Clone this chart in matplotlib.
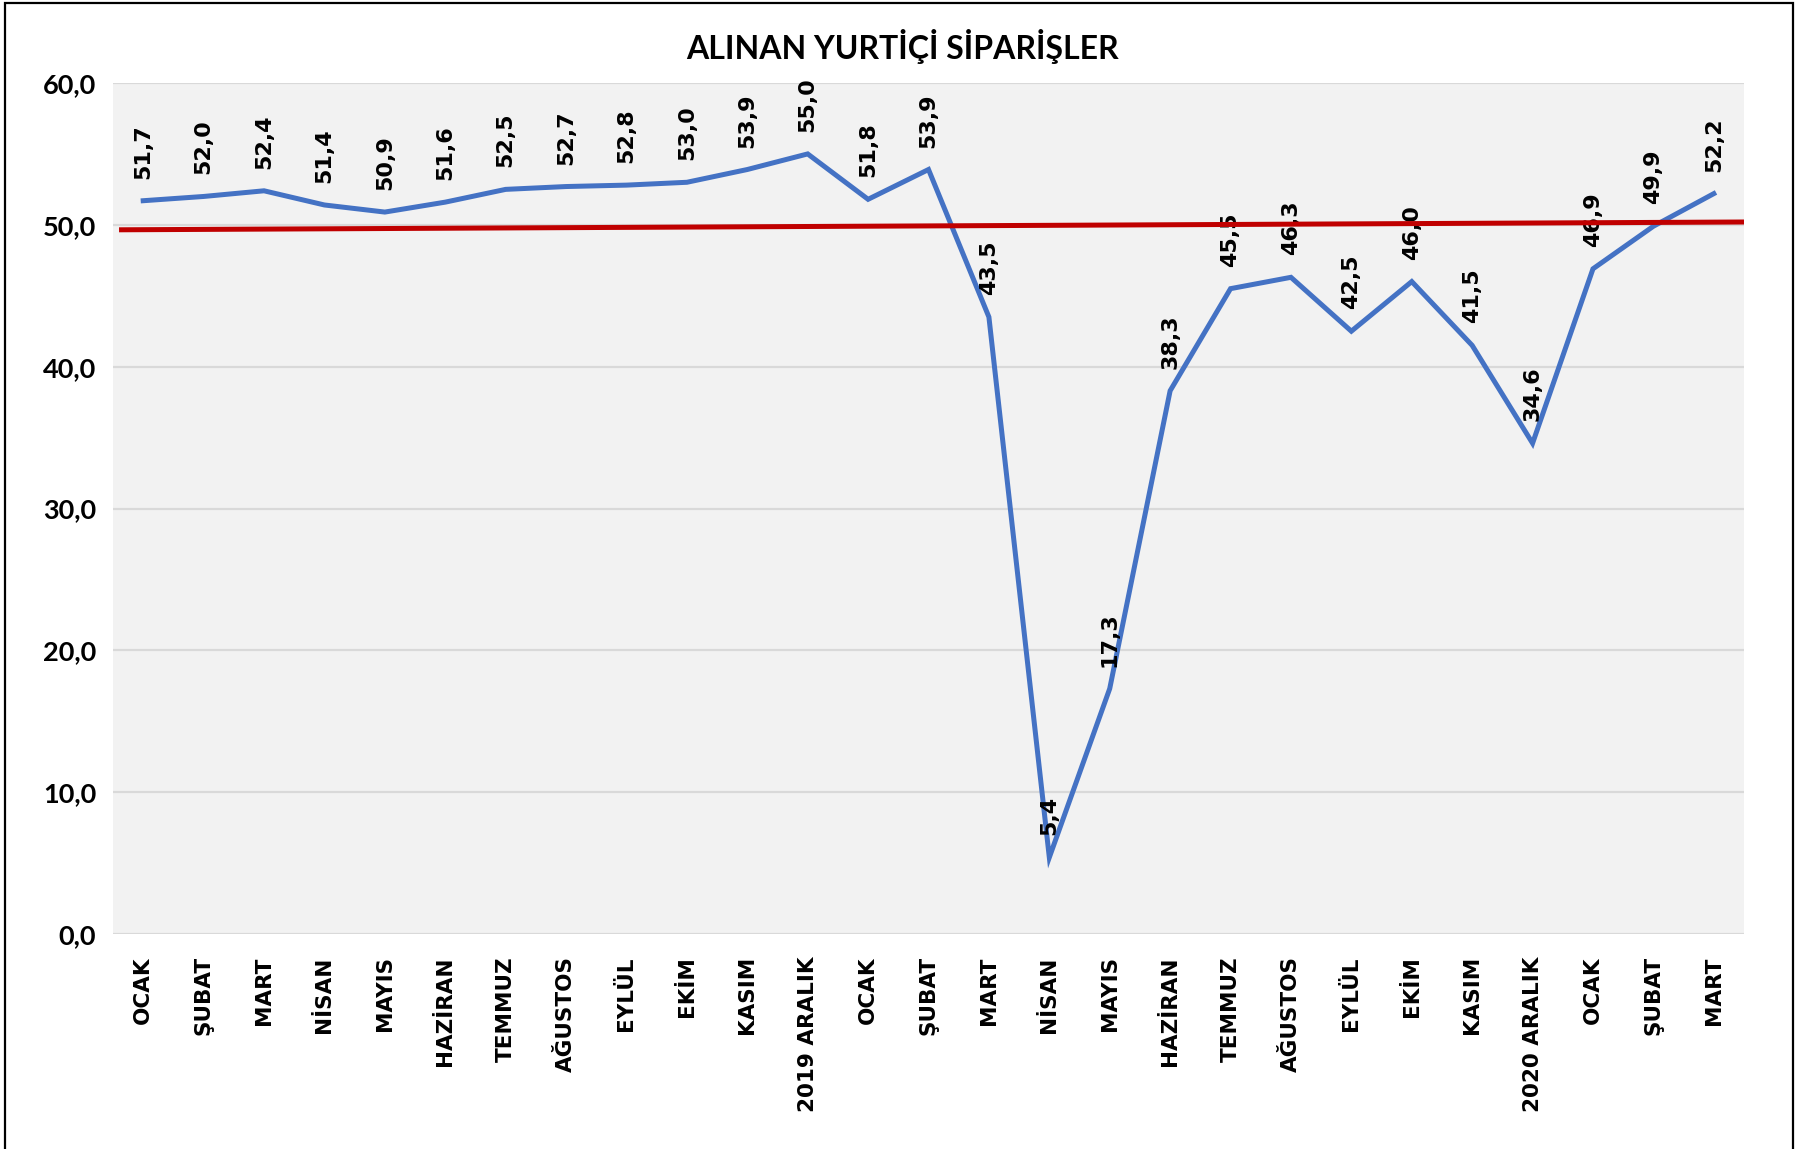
import matplotlib
matplotlib.use("Agg")
import matplotlib.pyplot as plt
from matplotlib.patches import Rectangle
from matplotlib.ticker import FuncFormatter

categories = ["OCAK", "ŞUBAT", "MART", "NİSAN", "MAYIS", "HAZİRAN", "TEMMUZ",
              "AĞUSTOS", "EYLÜL", "EKİM", "KASIM", "2019 ARALIK",
              "OCAK", "ŞUBAT", "MART", "NİSAN", "MAYIS", "HAZİRAN", "TEMMUZ",
              "AĞUSTOS", "EYLÜL", "EKİM", "KASIM", "2020 ARALIK",
              "OCAK", "ŞUBAT", "MART"]
values = [51.7, 52.0, 52.4, 51.4, 50.9, 51.6, 52.5, 52.7, 52.8, 53.0, 53.9, 55.0,
          51.8, 53.9, 43.5, 5.4, 17.3, 38.3, 45.5, 46.3, 42.5, 46.0, 41.5, 34.6,
          46.9, 49.9, 52.2]
trend_x = [-0.4, 26.5]
trend_y = [49.65, 50.2]
y_ticks = [0, 10, 20, 30, 40, 50, 60]
title = "ALINAN YURTİÇİ SİPARİŞLER"

W, H = 1804, 1149
fig = plt.figure(figsize=(W / 100, H / 100), dpi=100)
fig.patch.set_facecolor("white")
ax = fig.add_axes([113 / W, 1 - 934 / H, (1744 - 113) / W, (934 - 83) / H])
ax.set_facecolor("#F2F2F2")

x = list(range(len(values)))
ax.plot(x, values, color="#4472C4", lw=3.6, zorder=3, solid_joinstyle="miter")
for xi, v in zip(x, values):
    ax.annotate(f"{v:.1f}".replace(".", ","), (xi, v), xytext=(0, 22),
                textcoords="offset pixels", rotation=90, ha="center", va="bottom",
                fontsize=16, fontweight="bold", family="DejaVu Sans",
                color="black", zorder=4)
ax.plot(trend_x, trend_y, color="#C00000", lw=3.6, zorder=5, solid_capstyle="butt")

ax.set_xlim(-0.5, len(values) - 0.5)
ax.set_ylim(0, 60)
ax.set_yticks(y_ticks)
ax.yaxis.set_major_formatter(FuncFormatter(lambda v, p: f"{v:.1f}".replace(".", ",")))
ax.set_xticks(x)
ax.set_xticklabels(categories, rotation=90, fontsize=15.5, fontweight="bold",
                   family="DejaVu Sans")
for lab in ax.get_yticklabels():
    lab.set_fontsize(19.5)
    lab.set_fontweight("bold")
    lab.set_family("Lato")
ax.tick_params(axis="both", length=0)
ax.tick_params(axis="y", pad=12)
ax.tick_params(axis="x", pad=16)
ax.grid(axis="y", color="#D9D9D9", lw=1.6, zorder=1)
ax.set_axisbelow(True)
for s in ax.spines.values():
    s.set_visible(False)

fig.text(902 / W, 1 - 46 / H, title, ha="center", va="center", fontsize=23,
         fontweight="bold", family="Lato")

fig.add_artist(Rectangle((4.5 / W, -0.05), (1793 - 4.5) / W, 1.05 - 2.5 / H,
                         transform=fig.transFigure, fill=False, edgecolor="black",
                         lw=1.6))

fig.savefig("out.png", dpi=100)
